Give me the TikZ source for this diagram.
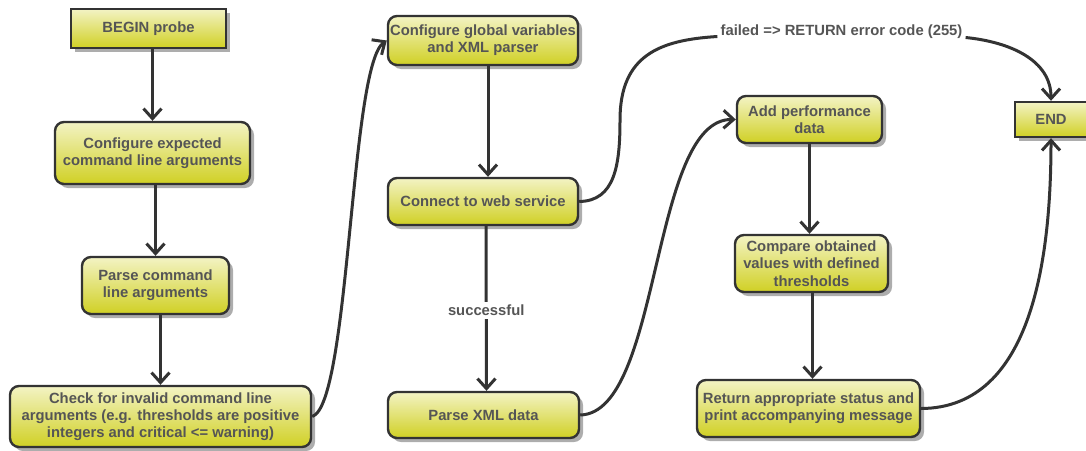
\documentclass[tikz,border=0pt]{standalone}
\usepackage{fontspec}
\setmainfont{Liberation Sans}
\usetikzlibrary{arrows.meta,shadows,shapes.misc}
\definecolor{edgegray}{HTML}{333333}
\definecolor{txtgray}{HTML}{555555}
\definecolor{boxtop}{HTML}{F3F3C4}
\definecolor{boxbot}{HTML}{D0D024}
\definecolor{shadowgray}{HTML}{ADADAD}
\tikzset{
  stepbox/.style={draw=edgegray, line width=2.4pt, rounded corners=9pt,
    top color=boxtop, bottom color=boxbot,
    drop shadow={shadow xshift=4pt, shadow yshift=-4pt, fill=shadowgray, opacity=1},
    text=txtgray, align=center, inner sep=0pt,
    font=\fontsize{14.8}{17.3}\selectfont\bfseries},
  termbox/.style={stepbox, rounded corners=0pt},
  flow/.style={draw=edgegray, line width=3pt,
    -{Straight Barb[length=10pt,width=18pt]}},
  plain/.style={draw=edgegray, line width=3pt},
  edgelabel/.style={fill=white, text=txtgray, inner sep=3pt,
    font=\fontsize{14.8}{17.3}\selectfont\bfseries}
}
\begin{document}
\begin{tikzpicture}[x=1pt,y=-1pt]
\useasboundingbox (0,0) rectangle (1086,450);

% first column: command line handling
\node[termbox, minimum width=155pt, minimum height=39pt] (begin) at (148.5,28.5) {BEGIN probe};
\node[stepbox, minimum width=195pt, minimum height=62pt] (confexp) at (152.5,153) {Configure expected\\command line arguments};
\node[stepbox, minimum width=147pt, minimum height=57pt] (parse) at (155.5,285.5) {Parse command\\line arguments};
\node[stepbox, minimum width=301pt, minimum height=61pt] (check) at (160.5,416.5) {Check for invalid command line\\arguments (e.g. thresholds are positive\\integers and critical <= warning)};

% second column: web service access
\node[stepbox, minimum width=190pt, minimum height=49pt] (confglob) at (483,40.5) {Configure global variables\\and XML parser};
\node[stepbox, minimum width=190pt, minimum height=47pt] (connect) at (483,201.5) {Connect to web service};
\node[stepbox, minimum width=191pt, minimum height=46pt] (parsexml) at (483.5,415) {Parse XML data};

% third column: evaluation
\node[stepbox, minimum width=145pt, minimum height=47pt] (addperf) at (809.5,119.5) {Add performance\\data};
\node[stepbox, minimum width=153pt, minimum height=57pt] (compare) at (811.5,263.5) {Compare obtained\\values with defined\\thresholds};
\node[stepbox, minimum width=223pt, minimum height=57pt] (return) at (808.5,408.5) {Return appropriate status and\\print accompanying message};

\node[termbox, minimum width=72pt, minimum height=35pt] (end) at (1051,119.5) {END};

% straight transitions
\draw[flow] (confexp.north |- begin.south) -- (confexp.north);
\draw[flow] (parse.north |- confexp.south) -- (parse.north);
\draw[flow] (check.north |- parse.south) -- (check.north);
\draw[flow] ([xshift=5pt]confglob.south) -- ([xshift=5pt]connect.north);
\draw[flow] ([xshift=3pt]connect.south) -- ([xshift=3pt]parsexml.north)
  node[edgelabel, pos=0.51] (okay) {successful};
\draw[flow] (addperf.south) -- (addperf.south |- compare.north);
\draw[flow] ([xshift=1pt]compare.south) -- ([xshift=1pt]compare.south |- return.north);

% curved transitions between columns
\draw[flow] (check.east) .. controls (350,405) and (350,65) .. (confglob.west);
\draw[flow] (parsexml.east) .. controls (662,413) and (650,118) .. (addperf.west);
\draw[flow] (return.east) .. controls (1035,408) and (1051,250) .. (end.south);

% failure branch
\node[edgelabel] (fail) at (841.5,31.5) {failed => RETURN error code (255)};
\draw[plain] (connect.east) .. controls (615,201) and (620,165) .. (620,120)
  .. controls (620,55) and (660,40) .. ([yshift=-5pt]fail.west);
\draw[flow] ([yshift=-6pt]fail.east) .. controls (1010,42) and (1051,60) .. (end.north);
\end{tikzpicture}
\end{document}
